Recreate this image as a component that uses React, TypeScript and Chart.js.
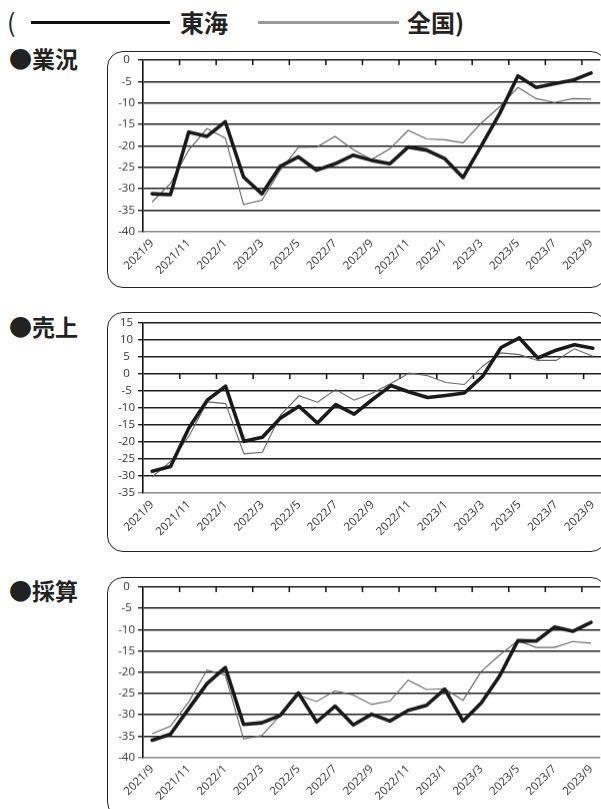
import React, { useEffect, useRef } from "react";
import { Chart, registerables } from "chart.js";
Chart.register(...registerables);

const months = [
  "2021/9", "2021/10", "2021/11", "2021/12", "2022/1", "2022/2", "2022/3", "2022/4", "2022/5",
  "2022/6", "2022/7", "2022/8", "2022/9", "2022/10", "2022/11", "2022/12", "2023/1", "2023/2",
  "2023/3", "2023/4", "2023/5", "2023/6", "2023/7", "2023/8", "2023/9",
];
const tickLabels = [
  "2021/9", "2021/11", "2022/1", "2022/3", "2022/5", "2022/7", "2022/9",
  "2022/11", "2023/1", "2023/3", "2023/5", "2023/7", "2023/9",
];

const gyokyoTokai = [
  -31.2, -31.4, -16.8, -17.8, -14.4, -27.3, -31.2, -24.8, -22.6, -25.7, -24.2, -22.2, -23.4,
  -24.2, -20.3, -21.0, -23.0, -27.4, -20.0, -12.5, -3.7, -6.4, -5.5, -4.7, -3.0,
];
const gyokyoZenkoku = [
  -33.1, -28.8, -21.0, -16.0, -18.2, -33.7, -32.7, -25.7, -20.4, -20.3, -17.8, -20.9, -23.2,
  -20.7, -16.4, -18.4, -18.6, -19.3, -14.7, -10.9, -6.4, -9.0, -9.9, -9.0, -9.1,
];
const uriageTokai = [
  -28.6, -27.2, -15.9, -7.7, -3.6, -19.8, -18.6, -12.9, -9.5, -14.4, -9.0, -11.8, -7.5,
  -3.4, -5.3, -6.9, -6.3, -5.6, -0.7, 7.8, 10.6, 4.7, 7.0, 8.6, 7.6,
];
const uriageZenkoku = [
  -30.3, -25.7, -18.3, -8.2, -8.7, -23.5, -23.0, -12.0, -6.4, -8.3, -4.6, -7.7, -5.6,
  -2.8, 0.3, -0.5, -2.5, -3.1, 2.3, 6.2, 5.7, 4.0, 4.0, 7.4, 5.2,
];
const saisanTokai = [
  -36.0, -34.6, -28.6, -22.7, -18.9, -32.3, -31.9, -30.2, -24.9, -31.7, -28.0, -32.4, -29.9,
  -31.5, -29.0, -27.8, -24.0, -31.5, -27.2, -20.9, -12.6, -12.7, -9.4, -10.4, -8.3,
];
const saisanZenkoku = [
  -34.5, -32.7, -27.0, -19.5, -20.7, -35.7, -34.9, -30.2, -25.4, -26.9, -24.4, -25.4, -27.6,
  -26.8, -21.9, -24.1, -23.9, -26.6, -19.8, -16.0, -12.6, -14.2, -14.2, -12.8, -13.2,
];

const CANVAS_LEFT = 108;
const CANVAS_WIDTH = 494;
const Y_AXIS_W = 35;
const PAD_TOP = 10;
const X_AXIS_H = 50;

const zeroTicks = {
  id: "zeroTicks",
  beforeDatasetsDraw(chart: any) {
    const x = chart.scales.x;
    const y = chart.scales.y;
    const ctx = chart.ctx;
    const y0 = y.getPixelForValue(0);
    ctx.save();
    ctx.strokeStyle = "#111";
    ctx.lineWidth = 1.5;
    for (let k = 2; k < months.length; k += 2) {
      const px = (x.getPixelForValue(k - 1) + x.getPixelForValue(k)) / 2;
      ctx.beginPath();
      ctx.moveTo(px, y0);
      ctx.lineTo(px, y0 + 5);
      ctx.stroke();
    }
    ctx.restore();
  },
};

type MiniProps = {
  tokai: number[];
  zenkoku: number[];
  min: number;
  max: number;
  plotTop: number;
  plotBottom: number;
};

const tickFont = { family: "'Open Sans', 'DejaVu Sans', sans-serif", size: 11.5 };

function MiniChart({ tokai, zenkoku, min, max, plotTop, plotBottom }: MiniProps) {
  const ref = useRef<HTMLCanvasElement | null>(null);
  useEffect(() => {
    if (!ref.current) return;
    const chart = new Chart(ref.current, {
      type: "line",
      data: {
        labels: months,
        datasets: [
          {
            label: "東海",
            data: tokai,
            borderColor: "#1a1a1a",
            borderWidth: 3.6,
            pointRadius: 0,
            tension: 0,
            borderJoinStyle: "round",
            borderCapStyle: "round",
          },
          {
            label: "全国",
            data: zenkoku,
            borderColor: "#666",
            borderWidth: 1.1,
            pointRadius: 0,
            tension: 0,
          },
        ],
      },
      options: {
        animation: false,
        responsive: true,
        maintainAspectRatio: false,
        layout: { padding: { top: PAD_TOP, left: 0, right: 0, bottom: 0 } },
        plugins: { legend: { display: false }, tooltip: { enabled: false } },
        scales: {
          x: {
            type: "category",
            offset: true,
            grid: { display: false, drawTicks: false },
            border: { display: false },
            ticks: {
              autoSkip: false,
              minRotation: 45,
              maxRotation: 45,
              padding: 5,
              color: "#333",
              font: tickFont,
              callback: (_v: any, i: number) => (tickLabels.includes(months[i]) ? months[i] : ""),
            },
            afterFit: (s: any) => {
              s.height = X_AXIS_H;
              s.paddingLeft = 0;
              s.paddingRight = 0;
            },
          },
          y: {
            min,
            max,
            ticks: {
              stepSize: 5,
              color: "#333",
              padding: 3,
              crossAlign: "center",
              font: tickFont,
            },
            grid: {
              color: (c: any) => (c.tick && c.tick.value === min ? "#888" : "#1e1e1e"),
              lineWidth: 1.4,
              tickLength: 5,
              drawTicks: true,
            },
            border: { display: true, color: "#111", width: 1.6 },
            afterFit: (s: any) => {
              s.width = Y_AXIS_W;
              s.paddingTop = 0;
              s.paddingBottom = 0;
            },
          },
        },
      },
      plugins: [zeroTicks],
    } as any);
    return () => chart.destroy();
  }, []);
  const top = plotTop - PAD_TOP;
  const height = plotBottom - plotTop + PAD_TOP + X_AXIS_H;
  return (
    <div style={{ position: "absolute", left: CANVAS_LEFT, top, width: CANVAS_WIDTH, height }}>
      <canvas ref={ref} />
    </div>
  );
}

const jp = "'Noto Sans CJK JP', 'Noto Sans', sans-serif";

function Box({ top, bottom }: { top: number; bottom: number }) {
  return (
    <div
      style={{
        position: "absolute",
        left: 107,
        top,
        width: 500,
        height: bottom - top,
        border: "1.5px solid #222",
        borderRadius: 16,
        boxSizing: "border-box",
      }}
    />
  );
}

function Label({ text, y }: { text: string; y: number }) {
  return (
    <div
      style={{
        position: "absolute",
        left: 9,
        top: y - 12,
        height: 24,
        lineHeight: "24px",
        fontFamily: jp,
        fontWeight: 700,
        fontSize: 23,
        color: "#222",
        whiteSpace: "nowrap",
      }}
    >
      {text}
    </div>
  );
}

export default function App() {
  return (
    <div
      style={{
        position: "absolute",
        left: 0,
        top: 0,
        width: 601,
        height: 809,
        overflow: "hidden",
        background: "#fff",
      }}
    >
      {/* legend */}
      <div style={{ position: "absolute", left: 7, top: 8, lineHeight: "26px", fontFamily: jp, fontSize: 25, color: "#222" }}>(</div>
      <div style={{ position: "absolute", left: 31, top: 21, width: 139, height: 2.5, background: "#111" }} />
      <div style={{ position: "absolute", left: 180, top: 9, lineHeight: "26px", fontFamily: jp, fontWeight: 700, fontSize: 24, color: "#222", whiteSpace: "nowrap" }}>東海</div>
      <div style={{ position: "absolute", left: 258, top: 21, width: 141, height: 2.5, background: "#999" }} />
      <div style={{ position: "absolute", left: 407, top: 9, lineHeight: "26px", fontFamily: jp, fontWeight: 700, fontSize: 24, color: "#222", whiteSpace: "nowrap" }}>全国)</div>

      <Label text="●業況" y={58} />
      <Label text="●売上" y={326} />
      <Label text="●採算" y={590} />

      <Box top={51} bottom={288} />
      <Box top={312} bottom={552} />
      <Box top={577} bottom={818} />

      <MiniChart tokai={gyokyoTokai} zenkoku={gyokyoZenkoku} min={-40} max={0} plotTop={60.3} plotBottom={231} />
      <MiniChart tokai={uriageTokai} zenkoku={uriageZenkoku} min={-35} max={15} plotTop={323.3} plotBottom={493.3} />
      <MiniChart tokai={saisanTokai} zenkoku={saisanZenkoku} min={-40} max={0} plotTop={587.3} plotBottom={756.7} />
    </div>
  );
}
